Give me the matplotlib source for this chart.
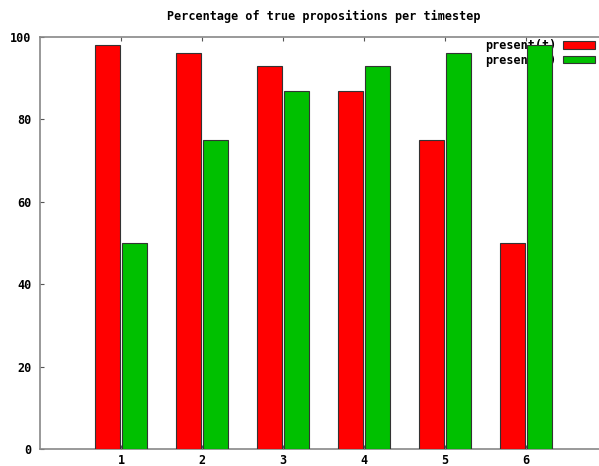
import numpy as np
import matplotlib
matplotlib.use('Agg')
import matplotlib.pyplot as plt

# Data
timesteps = [1, 2, 3, 4, 5, 6]
series_a = [98, 96, 93, 87, 75, 50]
series_b = [50, 75, 87, 93, 96, 98]
labels = ['present(t)', 'present(0)']
colors = ['#ff0000', '#00c000']

plt.rcParams['font.family'] = 'DejaVu Sans Mono'
plt.rcParams['font.weight'] = 'bold'
plt.rcParams['font.size'] = 8.5

fig = plt.figure(figsize=(5.99, 4.66), dpi=100)
W, H = 599, 466
ax = fig.add_axes([40 / W, 1 - 449 / H, 567 / W, 412 / H])

x = np.array(timesteps)
width = 0.3
offset = 0.165
ax.bar(x - offset, series_a, width, color=colors[0], edgecolor='#333333',
       linewidth=0.8, label=labels[0], zorder=3)
ax.bar(x + offset, series_b, width, color=colors[1], edgecolor='#333333',
       linewidth=0.8, label=labels[1], zorder=3)

ax.set_xlim(0, 7)
ax.set_ylim(0, 100)
ax.set_xticks(timesteps)
ax.set_yticks(range(0, 101, 20))

for side in ['left', 'bottom', 'top']:
    ax.spines[side].set_color('#888888')
    ax.spines[side].set_linewidth(1.2)
ax.spines['right'].set_visible(False)

ax.tick_params(axis='both', direction='in', length=3, width=0.8, color='#555555',
               top=True, right=False, labelsize=8.5)
ax.tick_params(axis='y', pad=6)
ax.tick_params(axis='x', pad=3.5)

ax.set_title('Percentage of true propositions per timestep', fontsize=8.5,
             fontweight='bold', pad=12)

leg = ax.legend(loc='upper right', bbox_to_anchor=(595 / W, 1 - 39 / H),
                bbox_transform=fig.transFigure, frameon=False, markerfirst=False,
                handlelength=2.7, handleheight=0.6, handletextpad=0.55,
                labelspacing=0.15, borderaxespad=0, borderpad=0,
                prop={'family': 'DejaVu Sans Mono', 'weight': 'bold', 'size': 8.5})
leg.set_zorder(1)

fig.savefig('out.png', dpi=100)
